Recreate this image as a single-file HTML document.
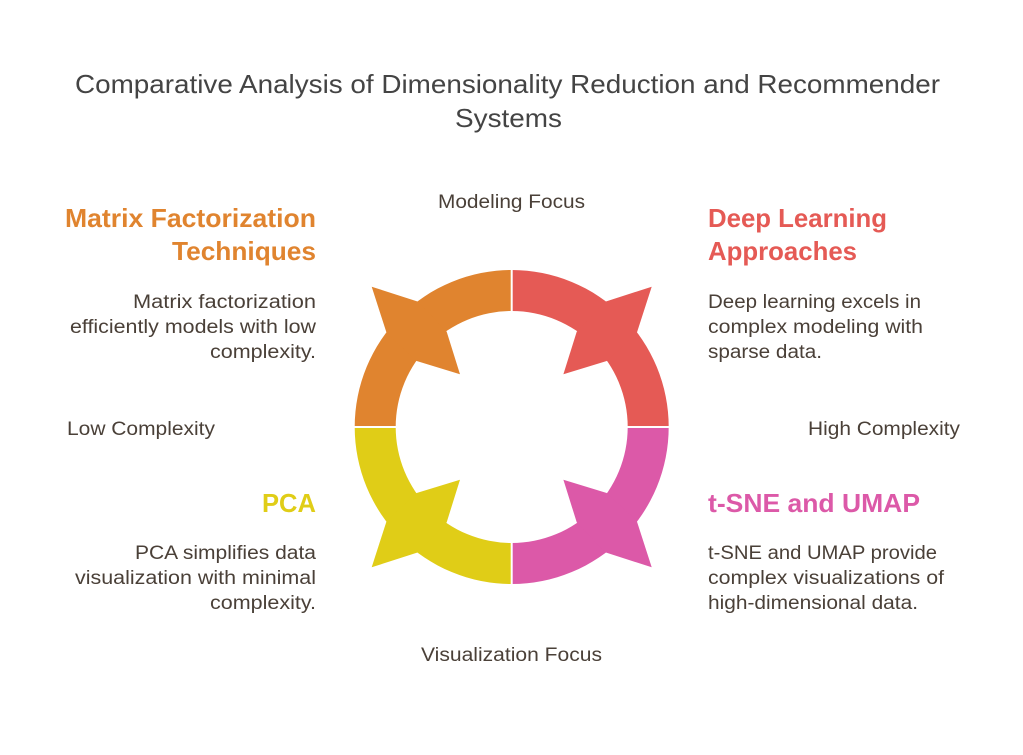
<!DOCTYPE html>
<html><head><meta charset="utf-8"><style>
html,body{margin:0;padding:0;background:#fff;}
svg{display:block;}
text{font-family:"Liberation Sans",sans-serif;}
.b{font-size:19px;fill:#4a4038;}
.h{font-size:26px;font-weight:bold;}
.l{font-size:19px;fill:#4a4038;}
</style></head><body>
<svg width="1023" height="755" viewBox="0 0 1023 755" xmlns="http://www.w3.org/2000/svg">
<defs>
<g id="q">
<path d="M354.7 427 A157 157 0 0 1 511.7 270 L511.7 311 A116 116 0 0 0 395.7 427 Z"/>
<polygon points="371.7,286.7 418.3,301.7 446.7,331.7 460,374.3 416.7,361 386.7,333.3"/>
</g>
</defs>
<g fill="#E0842F"><use href="#q"/></g>
<g fill="#E55A55" transform="translate(1023.4 0) scale(-1 1)"><use href="#q"/></g>
<g fill="#E0CD17" transform="translate(0 854) scale(1 -1)"><use href="#q"/></g>
<g fill="#DC59A8" transform="translate(1023.4 854) scale(-1 -1)"><use href="#q"/></g>
<line x1="511.7" y1="260" x2="511.7" y2="594" stroke="#fff" stroke-width="2"/>
<line x1="345" y1="427" x2="678" y2="427" stroke="#fff" stroke-width="2"/>

<g lengthAdjust="spacingAndGlyphs">
<text x="75" y="93" textLength="865" lengthAdjust="spacingAndGlyphs" style="font-size:26px;fill:#444">Comparative Analysis of Dimensionality Reduction and Recommender</text>
<text x="455" y="127" textLength="107" lengthAdjust="spacingAndGlyphs" style="font-size:26px;fill:#444">Systems</text>

<text x="438" y="208" textLength="147" lengthAdjust="spacingAndGlyphs" class="l">Modeling Focus</text>
<text x="421" y="661" textLength="181" lengthAdjust="spacingAndGlyphs" class="l">Visualization Focus</text>
<text x="67" y="435" textLength="148" lengthAdjust="spacingAndGlyphs" class="l">Low Complexity</text>
<text x="808" y="435" textLength="152" lengthAdjust="spacingAndGlyphs" class="l">High Complexity</text>

<text x="65" y="227" textLength="251" lengthAdjust="spacingAndGlyphs" class="h" fill="#E0842F">Matrix Factorization</text>
<text x="172" y="260" textLength="144" lengthAdjust="spacingAndGlyphs" class="h" fill="#E0842F">Techniques</text>
<text x="133" y="308" textLength="183" lengthAdjust="spacingAndGlyphs" class="b">Matrix factorization</text>
<text x="70" y="333" textLength="246" lengthAdjust="spacingAndGlyphs" class="b">efficiently models with low</text>
<text x="210" y="358" textLength="106" lengthAdjust="spacingAndGlyphs" class="b">complexity.</text>
<text x="262" y="512" textLength="54" lengthAdjust="spacingAndGlyphs" class="h" fill="#E0CD17">PCA</text>
<text x="135" y="559" textLength="181" lengthAdjust="spacingAndGlyphs" class="b">PCA simplifies data</text>
<text x="75" y="584" textLength="241" lengthAdjust="spacingAndGlyphs" class="b">visualization with minimal</text>
<text x="210" y="609" textLength="106" lengthAdjust="spacingAndGlyphs" class="b">complexity.</text>

<text x="708" y="227" textLength="179" lengthAdjust="spacingAndGlyphs" class="h" fill="#E55A55">Deep Learning</text>
<text x="708" y="260" textLength="149" lengthAdjust="spacingAndGlyphs" class="h" fill="#E55A55">Approaches</text>
<text x="708" y="308" textLength="213" lengthAdjust="spacingAndGlyphs" class="b">Deep learning excels in</text>
<text x="708" y="333" textLength="215" lengthAdjust="spacingAndGlyphs" class="b">complex modeling with</text>
<text x="708" y="358" textLength="114" lengthAdjust="spacingAndGlyphs" class="b">sparse data.</text>
<text x="708" y="512" textLength="212" lengthAdjust="spacingAndGlyphs" class="h" fill="#DC59A8">t-SNE and UMAP</text>
<text x="708" y="559" textLength="229" lengthAdjust="spacingAndGlyphs" class="b">t-SNE and UMAP provide</text>
<text x="708" y="584" textLength="236" lengthAdjust="spacingAndGlyphs" class="b">complex visualizations of</text>
<text x="708" y="609" textLength="210" lengthAdjust="spacingAndGlyphs" class="b">high-dimensional data.</text>
</g>
</svg>
</body></html>
